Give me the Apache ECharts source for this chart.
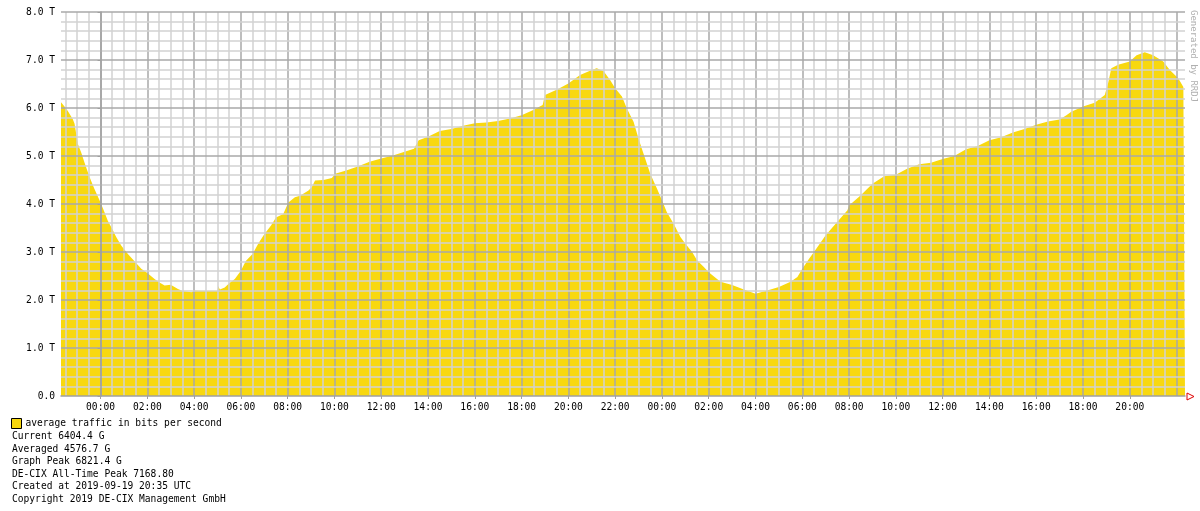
<!DOCTYPE html>
<html>
<head>
<meta charset="utf-8">
<script src="https://cdn.jsdelivr.net/npm/echarts@6/dist/echarts.min.js"></script>
<style>
  html, body { margin: 0; padding: 0; background: #fff; }
  #chart { width: 1200px; height: 511px; }
</style>
</head>
<body>
<div id="chart"></div>
<script>
// hours since 00:00 of the first day, traffic in Tbit/s
const hours = [
  -1.69, -1.54, -1.4, -1.19, -1.11, -0.97, -0.83, -0.69, -0.47, -0.26,
  0, 0.17, 0.31, 0.5, 0.67, 0.89, 1, 1.17, 1.5, 1.74,
  2, 2.31, 2.5, 2.74, 3, 3.31, 3.5, 3.89, 4, 4.31,
  4.5, 5, 5.03, 5.1, 5.31, 5.5, 5.74, 6, 6.21, 6.5,
  6.74, 7, 7.29, 7.5, 7.81, 8.03, 8.31, 8.53, 8.89, 9.03,
  9.17, 9.53, 9.89, 10.03, 10.5, 11, 11.5, 12, 12.5, 13,
  13.4, 13.6, 14, 14.5, 15, 15.5, 16, 16.5, 17, 17.5,
  18, 18.5, 18.9, 19, 19.5, 20, 20.5, 21, 21.21, 21.5,
  21.79, 22, 22.29, 22.5, 22.79, 23, 23.21, 23.5, 23.79, 24,
  24.21, 24.5, 24.79, 25, 25.29, 25.5, 25.79, 26, 26.5, 27,
  27.5, 28, 28.5, 29, 29.5, 29.79, 30, 30.29, 30.5, 31,
  31.5, 31.93, 32, 32.5, 33, 33.5, 34, 34.5, 35, 35.5,
  36, 36.5, 37, 37.5, 38, 38.5, 39, 39.5, 40, 40.5,
  41, 41.29, 41.5, 42, 42.5, 42.93, 43.07, 43.21, 43.5, 44,
  44.29, 44.64, 45, 45.43, 45.71, 46.07, 46.29, 46.36
];
const traffic = [
  6.12, 6.03, 5.94, 5.77, 5.67, 5.25, 5.08, 4.87, 4.56, 4.31,
  4.03, 3.83, 3.65, 3.48, 3.31, 3.13, 3.06, 2.96, 2.78, 2.65,
  2.56, 2.44, 2.37, 2.30, 2.32, 2.23, 2.19, 2.16, 2.20, 2.19,
  2.19, 2.19, 2.29, 2.22, 2.26, 2.35, 2.44, 2.61, 2.81, 2.96,
  3.17, 3.37, 3.55, 3.72, 3.79, 4.03, 4.14, 4.17, 4.28, 4.35,
  4.49, 4.50, 4.54, 4.63, 4.70, 4.78, 4.88, 4.95, 5.01, 5.09,
  5.15, 5.33, 5.40, 5.52, 5.56, 5.63, 5.68, 5.70, 5.73, 5.78,
  5.85, 5.96, 6.06, 6.27, 6.38, 6.51, 6.69, 6.79, 6.83, 6.77,
  6.58, 6.41, 6.24, 5.99, 5.71, 5.36, 5.05, 4.63, 4.32, 4.08,
  3.83, 3.59, 3.31, 3.17, 3.00, 2.83, 2.69, 2.58, 2.38, 2.31,
  2.22, 2.13, 2.20, 2.27, 2.38, 2.48, 2.65, 2.86, 3.00, 3.35,
  3.63, 3.87, 3.97, 4.18, 4.42, 4.58, 4.61, 4.74, 4.83, 4.86,
  4.94, 5.00, 5.14, 5.21, 5.33, 5.39, 5.49, 5.56, 5.65, 5.72,
  5.76, 5.85, 5.92, 6.03, 6.11, 6.27, 6.51, 6.83, 6.90, 6.97,
  7.10, 7.16, 7.10, 6.97, 6.79, 6.62, 6.44, 6.41
];

const xTickHours = [0, 2, 4, 6, 8, 10, 12, 14, 16, 18, 20, 22, 24, 26, 28, 30, 32, 34, 36, 38, 40, 42, 44];
const xTickLabels = ['00:00', '02:00', '04:00', '06:00', '08:00', '10:00', '12:00', '14:00', '16:00', '18:00', '20:00', '22:00',
  '00:00', '02:00', '04:00', '06:00', '08:00', '10:00', '12:00', '14:00', '16:00', '18:00', '20:00'];
const yTickLabels = ['0.0', '1.0 T', '2.0 T', '3.0 T', '4.0 T', '5.0 T', '6.0 T', '7.0 T', '8.0 T'];

const seriesName = 'average traffic in bits per second';
const statLines = [
  'Current 6404.4 G',
  'Averaged 4576.7 G',
  'Graph Peak 6821.4 G',
  'DE-CIX All-Time Peak 7168.80',
  'Created at 2019-09-19 20:35 UTC',
  'Copyright 2019 DE-CIX Management GmbH'
];

const X_MIN = -1.69, X_MAX = 46.36;
const MONO = '"DejaVu Sans Mono", "Liberation Mono", monospace';
const MAJOR = '#A9A9A9', MINOR = '#D2D2D2';

// grid drawn on top of the area, like rrdtool does:
// vertical every half hour (darker every two hours), horizontal every 0.2 T (darker every 1 T)
const gridLines = [];
for (let h = -1.5; h <= X_MAX; h += 0.5) {
  gridLines.push({ xAxis: h, lineStyle: { color: h % 2 === 0 ? MAJOR : MINOR, width: 1.5, type: 'solid' } });
}
for (let k = 1; k <= 40; k++) {
  gridLines.push({ yAxis: k / 5, lineStyle: { color: k % 5 === 0 ? MAJOR : MINOR, width: 1.5, type: 'solid' } });
}

const chart = echarts.init(document.getElementById('chart'));

chart.setOption({
  animation: false,
  backgroundColor: '#fff',
  grid: { left: 61, right: 15, top: 12, bottom: 115 },
  legend: {
    data: [seriesName],
    left: 11,
    top: 418,
    padding: 0,
    icon: 'rect',
    itemWidth: 10,
    itemHeight: 10,
    itemGap: 5,
    itemStyle: { borderColor: '#000', borderWidth: 1 },
    textStyle: { fontFamily: MONO, fontSize: 9.6, color: '#000', padding: [0, 0, 0, -1] }
  },
  xAxis: {
    type: 'value',
    min: X_MIN,
    max: X_MAX,
    z: 6,
    axisLine: { show: true, onZero: false, lineStyle: { color: '#A0A0A0', width: 1.5 } },
    axisTick: { show: true, customValues: xTickHours, length: 3, lineStyle: { color: '#A0A0A0' } },
    axisLabel: {
      customValues: xTickHours,
      formatter: (v) => xTickLabels[xTickHours.indexOf(v)],
      fontFamily: MONO, fontSize: 9.6, color: '#000', margin: 6
    },
    splitLine: { show: false }
  },
  yAxis: {
    type: 'value',
    min: 0,
    max: 8,
    interval: 1,
    z: 6,
    axisLine: { show: true, lineStyle: { color: '#A0A0A0', width: 1.5 } },
    axisTick: { show: true, length: 3, lineStyle: { color: '#A0A0A0' } },
    axisLabel: {
      formatter: (v) => yTickLabels[Math.round(v)],
      fontFamily: MONO, fontSize: 9.6, color: '#000', margin: 6
    },
    splitLine: { show: false }
  },
  series: [{
    name: seriesName,
    type: 'line',
    data: hours.map((h, i) => [h, traffic[i]]),
    showSymbol: false,
    color: '#F8D80F',
    lineStyle: { width: 0 },
    areaStyle: { color: '#F8D80F', opacity: 1 },
    markLine: {
      silent: true,
      symbol: 'none',
      label: { show: false },
      animation: false,
      data: gridLines
    }
  }],
  graphic: [
    ...statLines.map((line, i) => ({
      type: 'text',
      left: 12,
      top: 431.5 + i * 12.5,
      style: { text: line, font: '9.6px ' + MONO, fill: '#000' }
    })),
    {
      type: 'text',
      x: 1193,
      y: 10,
      rotation: -Math.PI / 2,
      style: { text: 'Generated by RRDJ', font: '9px ' + MONO, fill: '#B0B0B0', textAlign: 'left', textVerticalAlign: 'middle' }
    },
    {
      type: 'polygon',
      shape: { points: [[1187, 393], [1194, 396.5], [1187, 400]] },
      style: { fill: 'none', stroke: '#E00000', lineWidth: 1 }
    }
  ]
});
</script>
</body>
</html>
